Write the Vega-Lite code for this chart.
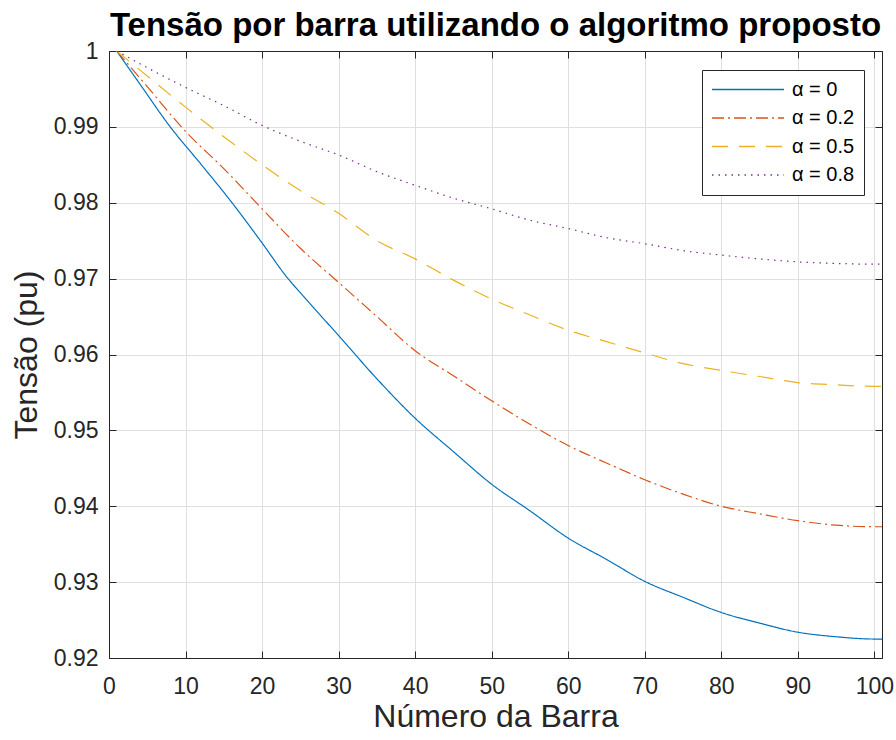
{
  "$schema": "https://vega.github.io/schema/vega-lite/v6.json",
  "width": 773,
  "height": 607,
  "autosize": {"type": "none"},
  "padding": {"left": 109, "top": 51, "right": 14, "bottom": 82},
  "background": "white",
  "title": {
    "text": "Tensão por barra utilizando o algoritmo proposto",
    "font": "Liberation Sans",
    "fontSize": 33,
    "fontWeight": "bold",
    "color": "#000000",
    "anchor": "middle",
    "baseline": "bottom",
    "offset": -36
  },
  "config": {
    "view": {"stroke": null},
    "font": "Liberation Sans",
    "axis": {
      "labelFont": "Liberation Sans",
      "titleFont": "Liberation Sans",
      "labelColor": "#262626",
      "titleColor": "#262626",
      "domainColor": "#262626",
      "tickColor": "#262626",
      "gridColor": "#dfdfdf",
      "gridWidth": 1,
      "domainWidth": 1,
      "tickWidth": 1
    }
  },
  "data": {
    "values": [
      {"bar": 1, "tensao": 1.0, "alpha": "α = 0"},
      {"bar": 4, "tensao": 0.9957, "alpha": "α = 0"},
      {"bar": 8, "tensao": 0.99, "alpha": "α = 0"},
      {"bar": 12, "tensao": 0.9851, "alpha": "α = 0"},
      {"bar": 16, "tensao": 0.9801, "alpha": "α = 0"},
      {"bar": 20, "tensao": 0.9747, "alpha": "α = 0"},
      {"bar": 23, "tensao": 0.9705, "alpha": "α = 0"},
      {"bar": 26, "tensao": 0.967, "alpha": "α = 0"},
      {"bar": 30, "tensao": 0.9625, "alpha": "α = 0"},
      {"bar": 35, "tensao": 0.9568, "alpha": "α = 0"},
      {"bar": 40, "tensao": 0.9516, "alpha": "α = 0"},
      {"bar": 45, "tensao": 0.9472, "alpha": "α = 0"},
      {"bar": 50, "tensao": 0.9429, "alpha": "α = 0"},
      {"bar": 55, "tensao": 0.9394, "alpha": "α = 0"},
      {"bar": 60, "tensao": 0.9358, "alpha": "α = 0"},
      {"bar": 65, "tensao": 0.933, "alpha": "α = 0"},
      {"bar": 70, "tensao": 0.9301, "alpha": "α = 0"},
      {"bar": 75, "tensao": 0.928, "alpha": "α = 0"},
      {"bar": 80, "tensao": 0.926, "alpha": "α = 0"},
      {"bar": 85, "tensao": 0.9246, "alpha": "α = 0"},
      {"bar": 90, "tensao": 0.9234, "alpha": "α = 0"},
      {"bar": 95, "tensao": 0.9228, "alpha": "α = 0"},
      {"bar": 100, "tensao": 0.9225, "alpha": "α = 0"},
      {"bar": 101, "tensao": 0.9225, "alpha": "α = 0"},

      {"bar": 1, "tensao": 1.0, "alpha": "α = 0.2"},
      {"bar": 5, "tensao": 0.9953, "alpha": "α = 0.2"},
      {"bar": 10, "tensao": 0.9894, "alpha": "α = 0.2"},
      {"bar": 15, "tensao": 0.9845, "alpha": "α = 0.2"},
      {"bar": 20, "tensao": 0.9792, "alpha": "α = 0.2"},
      {"bar": 25, "tensao": 0.974, "alpha": "α = 0.2"},
      {"bar": 30, "tensao": 0.9695, "alpha": "α = 0.2"},
      {"bar": 35, "tensao": 0.965, "alpha": "α = 0.2"},
      {"bar": 40, "tensao": 0.9605, "alpha": "α = 0.2"},
      {"bar": 45, "tensao": 0.9572, "alpha": "α = 0.2"},
      {"bar": 50, "tensao": 0.9539, "alpha": "α = 0.2"},
      {"bar": 55, "tensao": 0.9508, "alpha": "α = 0.2"},
      {"bar": 60, "tensao": 0.948, "alpha": "α = 0.2"},
      {"bar": 65, "tensao": 0.9457, "alpha": "α = 0.2"},
      {"bar": 70, "tensao": 0.9435, "alpha": "α = 0.2"},
      {"bar": 75, "tensao": 0.9416, "alpha": "α = 0.2"},
      {"bar": 80, "tensao": 0.94, "alpha": "α = 0.2"},
      {"bar": 85, "tensao": 0.939, "alpha": "α = 0.2"},
      {"bar": 90, "tensao": 0.9381, "alpha": "α = 0.2"},
      {"bar": 95, "tensao": 0.9375, "alpha": "α = 0.2"},
      {"bar": 100, "tensao": 0.9373, "alpha": "α = 0.2"},
      {"bar": 101, "tensao": 0.9373, "alpha": "α = 0.2"},

      {"bar": 1, "tensao": 1.0, "alpha": "α = 0.5"},
      {"bar": 5, "tensao": 0.9967, "alpha": "α = 0.5"},
      {"bar": 10, "tensao": 0.9926, "alpha": "α = 0.5"},
      {"bar": 15, "tensao": 0.9887, "alpha": "α = 0.5"},
      {"bar": 20, "tensao": 0.985, "alpha": "α = 0.5"},
      {"bar": 25, "tensao": 0.9816, "alpha": "α = 0.5"},
      {"bar": 30, "tensao": 0.9786, "alpha": "α = 0.5"},
      {"bar": 35, "tensao": 0.975, "alpha": "α = 0.5"},
      {"bar": 40, "tensao": 0.9726, "alpha": "α = 0.5"},
      {"bar": 45, "tensao": 0.9698, "alpha": "α = 0.5"},
      {"bar": 50, "tensao": 0.9673, "alpha": "α = 0.5"},
      {"bar": 55, "tensao": 0.9652, "alpha": "α = 0.5"},
      {"bar": 60, "tensao": 0.9632, "alpha": "α = 0.5"},
      {"bar": 65, "tensao": 0.9617, "alpha": "α = 0.5"},
      {"bar": 70, "tensao": 0.9602, "alpha": "α = 0.5"},
      {"bar": 75, "tensao": 0.9588, "alpha": "α = 0.5"},
      {"bar": 80, "tensao": 0.9579, "alpha": "α = 0.5"},
      {"bar": 85, "tensao": 0.9571, "alpha": "α = 0.5"},
      {"bar": 90, "tensao": 0.9563, "alpha": "α = 0.5"},
      {"bar": 95, "tensao": 0.956, "alpha": "α = 0.5"},
      {"bar": 100, "tensao": 0.9558, "alpha": "α = 0.5"},
      {"bar": 101, "tensao": 0.9558, "alpha": "α = 0.5"},

      {"bar": 1, "tensao": 1.0, "alpha": "α = 0.8"},
      {"bar": 5, "tensao": 0.9978, "alpha": "α = 0.8"},
      {"bar": 10, "tensao": 0.9952, "alpha": "α = 0.8"},
      {"bar": 15, "tensao": 0.9928, "alpha": "α = 0.8"},
      {"bar": 20, "tensao": 0.9902, "alpha": "α = 0.8"},
      {"bar": 25, "tensao": 0.9881, "alpha": "α = 0.8"},
      {"bar": 30, "tensao": 0.9863, "alpha": "α = 0.8"},
      {"bar": 35, "tensao": 0.9841, "alpha": "α = 0.8"},
      {"bar": 40, "tensao": 0.9823, "alpha": "α = 0.8"},
      {"bar": 45, "tensao": 0.9806, "alpha": "α = 0.8"},
      {"bar": 50, "tensao": 0.9792, "alpha": "α = 0.8"},
      {"bar": 55, "tensao": 0.9777, "alpha": "α = 0.8"},
      {"bar": 60, "tensao": 0.9766, "alpha": "α = 0.8"},
      {"bar": 65, "tensao": 0.9754, "alpha": "α = 0.8"},
      {"bar": 70, "tensao": 0.9746, "alpha": "α = 0.8"},
      {"bar": 75, "tensao": 0.9737, "alpha": "α = 0.8"},
      {"bar": 80, "tensao": 0.9731, "alpha": "α = 0.8"},
      {"bar": 85, "tensao": 0.9726, "alpha": "α = 0.8"},
      {"bar": 90, "tensao": 0.9722, "alpha": "α = 0.8"},
      {"bar": 95, "tensao": 0.972, "alpha": "α = 0.8"},
      {"bar": 100, "tensao": 0.9719, "alpha": "α = 0.8"},
      {"bar": 101, "tensao": 0.9719, "alpha": "α = 0.8"}
    ]
  },
  "layer": [
    {
      "mark": {"type": "line", "strokeWidth": 1.2, "clip": true, "interpolate": "monotone"},
      "encoding": {
        "x": {
          "field": "bar",
          "type": "quantitative",
          "scale": {"domain": [0, 101], "nice": false, "zero": false},
          "axis": {
            "title": "Número da Barra",
            "titleFontSize": 32,
            "titleFontWeight": "normal",
            "titlePadding": 3,
            "values": [0, 10, 20, 30, 40, 50, 60, 70, 80, 90, 100],
            "labelFontSize": 23,
            "labelPadding": 24,
            "tickSize": -7,
            "grid": true,
            "labelFlush": false
          }
        },
        "y": {
          "field": "tensao",
          "type": "quantitative",
          "scale": {"domain": [0.92, 1], "nice": false, "zero": false},
          "axis": {
            "title": "Tensão (pu)",
            "titleFontSize": 32,
            "titleFontWeight": "normal",
            "titlePadding": 10,
            "values": [0.92, 0.93, 0.94, 0.95, 0.96, 0.97, 0.98, 0.99, 1],
            "format": ".2~f",
            "labelFontSize": 23,
            "labelPadding": 18,
            "tickSize": -7,
            "grid": true,
            "labelFlush": false
          }
        },
        "color": {
          "field": "alpha",
          "type": "nominal",
          "sort": ["α = 0", "α = 0.2", "α = 0.5", "α = 0.8"],
          "scale": {
            "domain": ["α = 0", "α = 0.2", "α = 0.5", "α = 0.8"],
            "range": ["#0072BD", "#D95319", "#EDB120", "#7E2F8E"]
          },
          "legend": {
            "title": null,
            "orient": "none",
            "legendX": 593,
            "legendY": 19,
            "symbolType": "stroke",
            "symbolSize": 5184,
            "symbolStrokeWidth": 1.3,
            "clipHeight": 21,
            "rowPadding": 7.5,
            "labelFontSize": 20,
            "labelFont": "Liberation Sans",
            "labelColor": "#000000",
            "labelOffset": 7,
            "padding": 9,
            "strokeColor": "#262626",
            "fillColor": "white"
          }
        },
        "strokeDash": {
          "field": "alpha",
          "type": "nominal",
          "sort": ["α = 0", "α = 0.2", "α = 0.5", "α = 0.8"],
          "scale": {
            "domain": ["α = 0", "α = 0.2", "α = 0.5", "α = 0.8"],
            "range": [[1, 0], [12, 4, 2, 4], [16, 11], [1.5, 5]]
          },
          "legend": null
        }
      }
    },
    {
      "mark": {"type": "line", "opacity": 0},
      "encoding": {
        "x": {
          "field": "bar",
          "type": "quantitative",
          "axis": {"orient": "top", "labels": false, "title": null, "grid": false, "tickSize": -7, "values": [0, 10, 20, 30, 40, 50, 60, 70, 80, 90, 100]}
        },
        "y": {
          "field": "tensao",
          "type": "quantitative",
          "axis": {"orient": "right", "labels": false, "title": null, "grid": false, "tickSize": -7, "values": [0.92, 0.93, 0.94, 0.95, 0.96, 0.97, 0.98, 0.99, 1]}
        }
      }
    }
  ],
  "resolve": {"axis": {"x": "independent", "y": "independent"}}
}
